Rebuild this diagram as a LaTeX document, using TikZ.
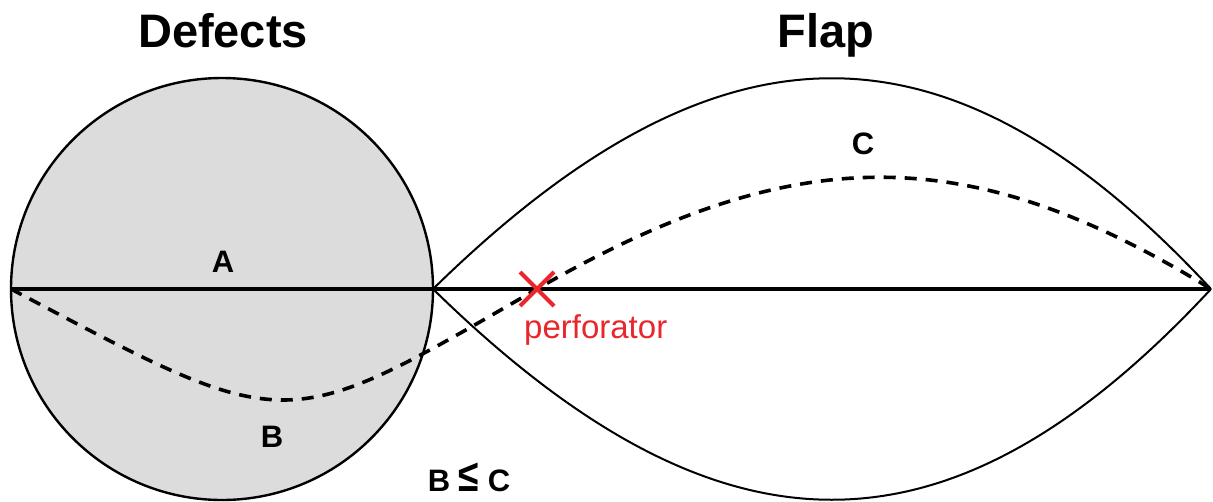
\documentclass[tikz,border=0pt]{standalone}
\usepackage{fontspec}
\setmainfont{Liberation Sans}
\definecolor{defgray}{HTML}{DCDCDC}
\definecolor{perfred}{HTML}{E8262C}
\tikzset{
  outline/.style={draw=black, line width=2.4pt},
  flapline/.style={draw=black, line width=2pt},
  axisline/.style={draw=black, line width=4.5pt},
  pathline/.style={draw=black, line width=3.6pt, dash pattern=on 12pt off 9pt},
  perfmark/.style={draw=perfred, line width=4pt},
  title/.style={font=\fontsize{47}{50}\selectfont\bfseries, anchor=base, inner sep=0pt},
  lbl/.style={font=\fontsize{31}{34}\selectfont\bfseries, anchor=base, inner sep=0pt},
}
\begin{document}
\begin{tikzpicture}[x=1pt,y=-1pt]
\useasboundingbox (0,0) rectangle (1213,501);
\coordinate (L) at (11,289);
\coordinate (M) at (433,289);
\coordinate (R) at (1211,289);
\coordinate (P) at (537,289);
\coordinate (O) at (222,289);
% defect circle
\fill[defgray] (O) circle[radius=211pt];
\draw[outline] (O) circle[radius=211pt];
% flap lens
\draw[flapline] (M) .. controls (720,8) and (950,8) .. (R);
\draw[flapline] (M) .. controls (720,570) and (950,570) .. (R);
% axis line
\draw[axisline] (L) -- (R);
% dashed path
\draw[pathline] (L) .. controls (291,437) and (281,437) .. (P)
                    .. controls (795,140) and (969,140) .. (R);
% perforator
\draw[perfmark] (520,272) -- (554,306);
\draw[perfmark] (520,306) -- (554,272);
% texts
\node[title] (tdef) at (223,47) {Defects};
\node[title] (tflap) at (826,47) {Flap};
\node[lbl] (la) at (223,272) {A};
\node[lbl] (lb) at (272,447) {B};
\node[lbl] (lc) at (863,154) {C};
\node[lbl] (lbc) at (469,491) {B \scalebox{1.2}[1.45]{≤} C};
\node[font=\fontsize{33}{36}\selectfont, text=perfred, anchor=base west, inner sep=0pt] (lperf) at (524,338) {perforator};
\end{tikzpicture}
\end{document}
